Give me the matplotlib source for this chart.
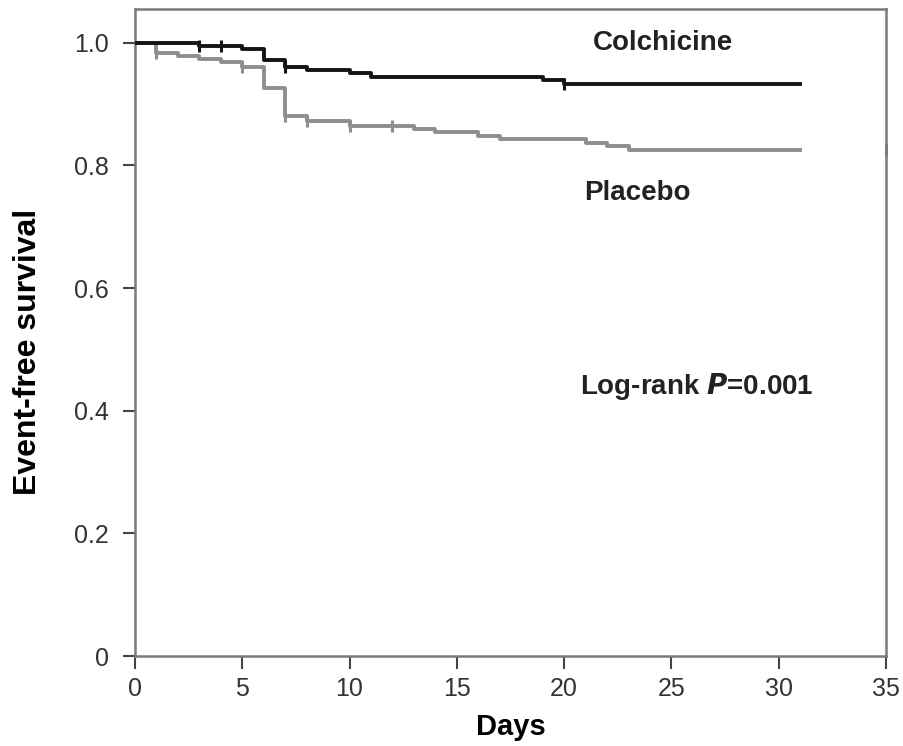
import numpy as np
import matplotlib
matplotlib.use("Agg")
import matplotlib.pyplot as plt

plt.rcParams["font.family"] = ["Liberation Sans", "DejaVu Sans"]

# Kaplan-Meier steps
colch_days = [0, 3, 5, 6, 7, 8, 10, 11, 19, 20, 31]
colch_surv = [1.0, 0.994, 0.990, 0.972, 0.961, 0.956, 0.950, 0.944, 0.940, 0.933, 0.933]
colch_censor = [3, 4, 7, 20]

plac_days = [0, 1, 2, 3, 4, 5, 6, 7, 8, 10, 13, 14, 16, 17, 21, 22, 23, 31]
plac_surv = [1.0, 0.983, 0.979, 0.973, 0.968, 0.960, 0.926, 0.881, 0.872, 0.864,
             0.859, 0.854, 0.848, 0.843, 0.837, 0.832, 0.825, 0.825]
plac_censor = [1, 5, 7, 8, 10, 12, 35]

x_ticks = [0, 5, 10, 15, 20, 25, 30, 35]
y_ticks = [0, 0.2, 0.4, 0.6, 0.8, 1.0]
y_ticklabels = ["0", "0.2", "0.4", "0.6", "0.8", "1.0"]


def surv_at(days, surv, t):
    # value of the step curve at time t
    idx = np.searchsorted(days, t, side="right") - 1
    return surv[max(idx, 0)]


fig = plt.figure(figsize=(9.04, 7.46), dpi=100)
ax = fig.add_axes([0.1493, 0.1206, 0.8308, 0.8673])

black = "#151515"
gray = "#8e8e8e"

ax.step(plac_days, plac_surv, where="post", color=gray, lw=2.8, zorder=2)
ax.step(colch_days, colch_surv, where="post", color=black, lw=2.8, zorder=3)

pc = [surv_at(plac_days, plac_surv, t) for t in plac_censor]
ax.plot(plac_censor, pc, ls="none", marker="|", ms=9, mew=2.2, color=gray,
        zorder=2, clip_on=False)
cc = [surv_at(colch_days, colch_surv, t) for t in colch_censor]
ax.plot(colch_censor, cc, ls="none", marker="|", ms=9, mew=2.2, color=black,
        zorder=3)

ax.set_xlim(0, 35)
ax.set_ylim(0, 1.055)
ax.set_xticks(x_ticks)
ax.set_yticks(y_ticks)
ax.set_yticklabels(y_ticklabels)

for s in ax.spines.values():
    s.set_color("#7a7a7a")
    s.set_linewidth(1.8)
ax.tick_params(direction="out", length=9, width=1.5, color="#444444",
               labelsize=18, labelcolor="#333333")
ax.tick_params(axis="y", pad=10)
ax.tick_params(axis="x", pad=6)

ax.set_xlabel("Days", fontsize=21, fontweight="bold")
ax.xaxis.set_label_coords(0.5, -0.088)
ax.set_ylabel("Event-free survival", fontsize=23, fontweight="bold")
ax.yaxis.set_label_coords(-0.122, 0.47)

ax.text(24.6, 1.0, "Colchicine", fontsize=20, fontweight="bold",
        ha="center", va="center", color="#222222")
ax.text(23.4, 0.755, "Placebo", fontsize=20, fontweight="bold",
        ha="center", va="center", color="#222222")
ax.text(26.2, 0.44, r"Log-rank $\mathbfit{P}$=0.001", fontsize=20,
        fontweight="bold", ha="center", va="center", color="#222222")

fig.savefig("out.png", dpi=100)
